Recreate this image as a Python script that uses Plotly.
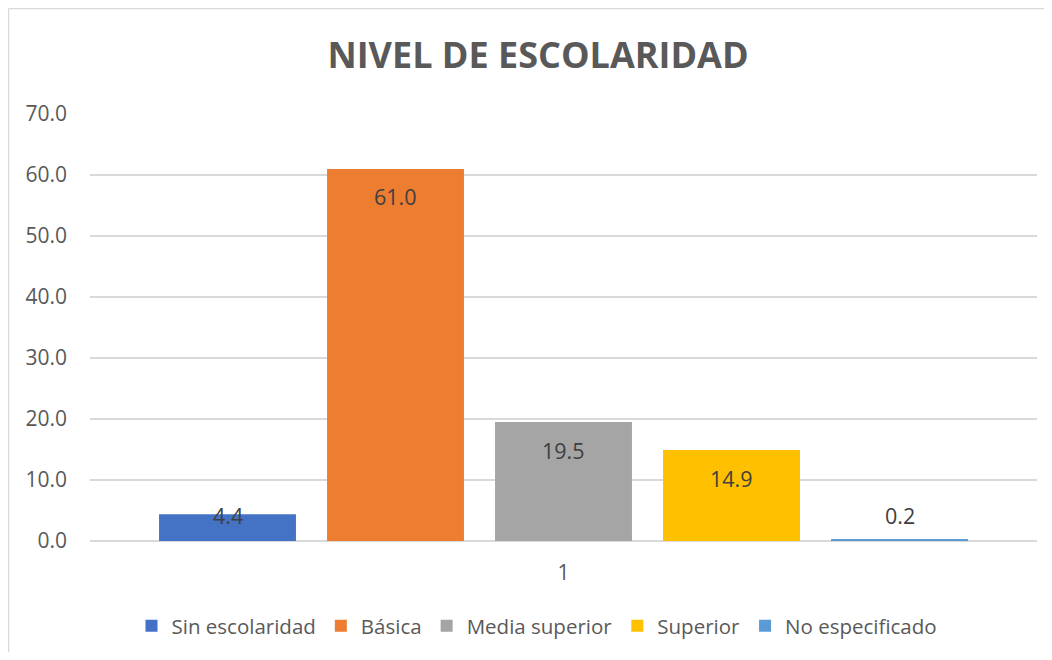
import plotly.graph_objects as go

# datos
categorias = ["1"]
series = ["Sin escolaridad", "Básica", "Media superior", "Superior", "No especificado"]
valores = [4.4, 61.0, 19.5, 14.9, 0.2]
colores = ["#4472C4", "#ED7D31", "#A5A5A5", "#FFC000", "#5B9BD5"]
y_ticks = [0, 10, 20, 30, 40, 50, 60, 70]

W, H = 1036, 644
ml, mr, mt, mb = 82, 7, 106, 111
bargap = 0.113
FONT = "Open Sans"
GRIS = "#595959"

fig = go.Figure()

for nombre, v, c in zip(series, valores, colores):
    fig.add_trace(
        go.Bar(
            name=nombre,
            x=categorias,
            y=[v],
            marker=dict(color=c, line=dict(width=0)),
            hoverinfo="name+y",
        )
    )

# etiquetas de datos (Excel las pone dentro, cerca del extremo)
n = len(series)
for i, v in enumerate(valores):
    if v > 10:
        shift = -28
    elif v > 1:
        shift = -1
    else:
        shift = 24
    fig.add_annotation(
        x=(i - (n - 1) / 2) * (1 - bargap) / n,
        y=v,
        xref="x",
        yref="y",
        text=f"{v:.1f}",
        showarrow=False,
        yshift=shift,
        yanchor="middle",
        font=dict(family=FONT, size=21.5, color="#404040"),
    )

# borde del gráfico (izquierda y arriba)
pw = W - ml - mr
ph = H - mt - mb
fig.add_shape(type="line", xref="paper", yref="paper",
              x0=-(ml - 0.5) / pw, x1=-(ml - 0.5) / pw, y0=-(mb + 5) / ph, y1=1 + (mt - 0.5) / ph,
              line=dict(color="#D9D9D9", width=1.5))
fig.add_shape(type="line", xref="paper", yref="paper",
              x0=-(ml - 0.5) / pw, x1=1 + (mr + 5) / pw, y0=1 + (mt - 0.5) / ph, y1=1 + (mt - 0.5) / ph,
              line=dict(color="#D9D9D9", width=1.5))

fig.update_layout(
    width=W,
    height=H,
    margin=dict(l=ml, r=mr, t=mt, b=mb),
    paper_bgcolor="white",
    plot_bgcolor="white",
    barmode="group",
    bargap=bargap,
    bargroupgap=0.185,
    title=dict(
        text="<b>NIVEL DE ESCOLARIDAD</b>",
        x=530 / W,
        xref="container",
        xanchor="center",
        y=1 - 47 / H,
        yref="container",
        yanchor="middle",
        font=dict(family=FONT, size=36, color=GRIS),
    ),
    font=dict(family=FONT, color=GRIS),
    legend=dict(
        orientation="h",
        xref="container",
        yref="container",
        x=529 / W,
        xanchor="center",
        y=1 - 618 / H,
        yanchor="middle",
        font=dict(family=FONT, size=20.5, color=GRIS),
        itemwidth=30,
        traceorder="normal",
    ),
    showlegend=True,
)

fig.update_yaxes(
    range=[0, 70],
    tickvals=y_ticks,
    tickformat=".1f",
    showgrid=True,
    gridcolor="#D9D9D9",
    gridwidth=1.5,
    zeroline=True,
    zerolinecolor="#D9D9D9",
    zerolinewidth=1.5,
    showline=False,
    ticks="",
    ticklabelstandoff=22,
    tickfont=dict(family=FONT, size=21, color=GRIS),
)

fig.update_xaxes(
    showgrid=False,
    showline=False,
    ticks="",
    ticklabelstandoff=17,
    tickfont=dict(family=FONT, size=21, color=GRIS),
)

fig.write_html("out.html")
